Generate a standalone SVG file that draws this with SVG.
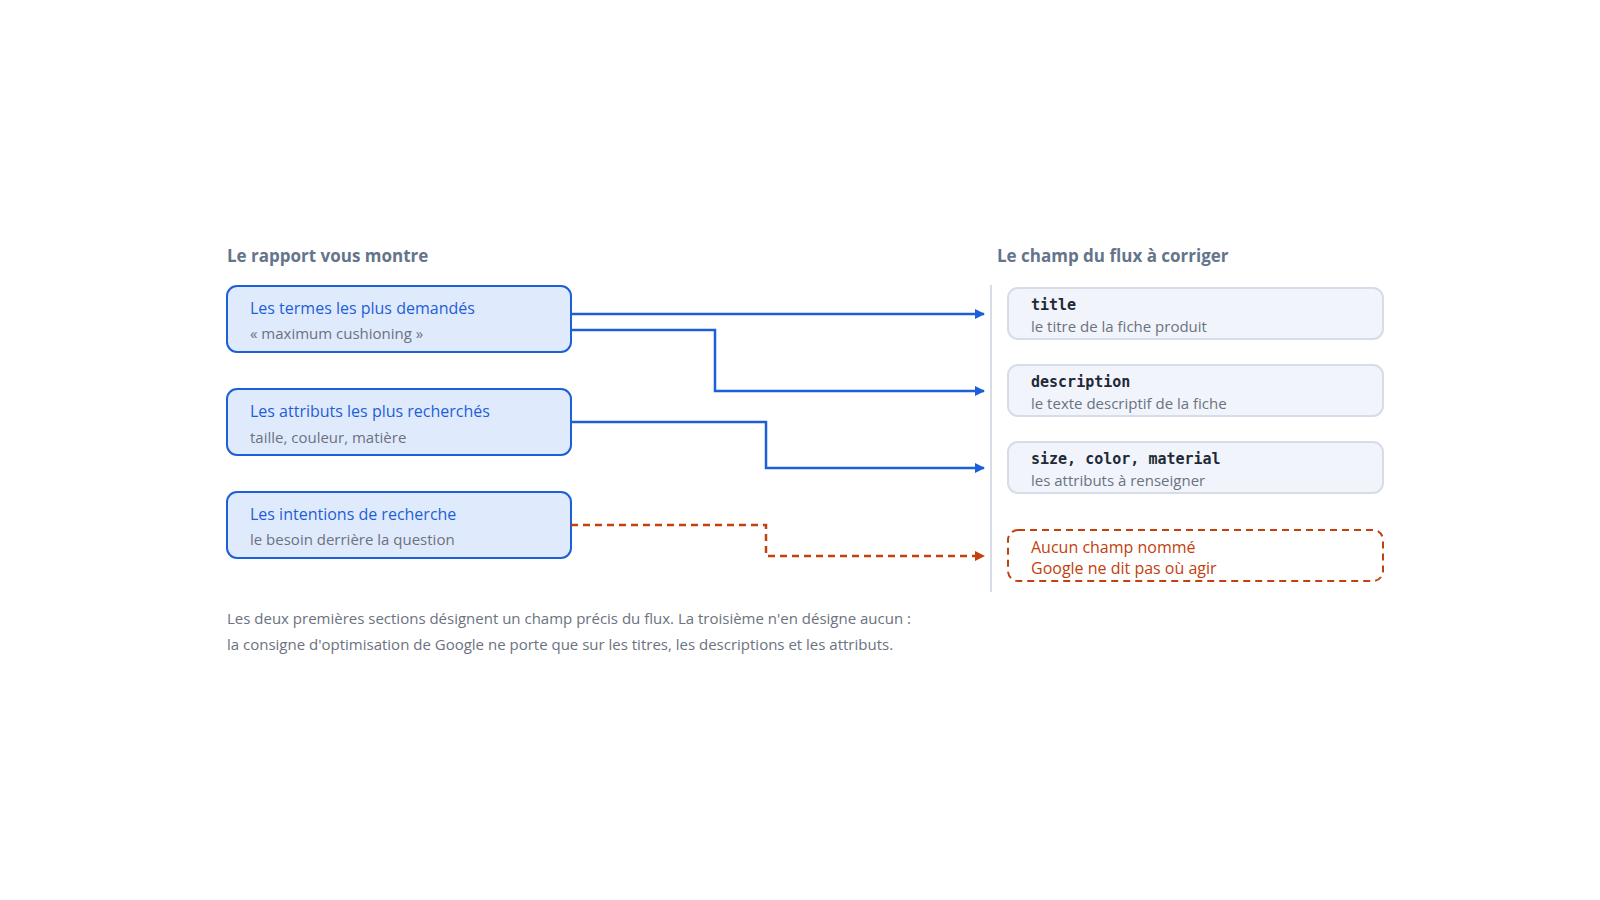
<svg xmlns="http://www.w3.org/2000/svg" width="1600" height="900" viewBox="0 0 1600 900">
<style>
.h{font-family:"Open Sans","Noto Sans",sans-serif;font-weight:700;font-size:17px;fill:#64748b}
.t{font-family:"Open Sans","Noto Sans",sans-serif;font-size:16px;fill:#1d5fd6}
.s{font-family:"Open Sans","Noto Sans",sans-serif;font-size:15px;fill:#6b7280}
.m{font-family:"DejaVu Sans Mono",monospace;font-weight:700;font-size:15px;fill:#1f2937}
.o{font-family:"Open Sans","Noto Sans",sans-serif;font-size:16px;fill:#c2410c}
.src{fill:#e0eafd;stroke:#1d5fd6;stroke-width:2}
.dst{fill:#f1f5fb;stroke:#d6dde8;stroke-width:2}
.c{fill:none;stroke:#1d5fd6;stroke-width:2.5}
.d{fill:none;stroke:#c2410c;stroke-width:2.5;stroke-dasharray:7 5}
</style>
<defs>
<marker id="ab" markerWidth="10" markerHeight="10" refX="9" refY="5" orient="auto" markerUnits="userSpaceOnUse" viewBox="0 0 10 10"><path d="M0,0 L10,5 L0,10 z" fill="#1d5fd6"/></marker>
<marker id="ao" markerWidth="10" markerHeight="10" refX="9" refY="5" orient="auto" markerUnits="userSpaceOnUse" viewBox="0 0 10 10"><path d="M0,0 L10,5 L0,10 z" fill="#c2410c"/></marker>
</defs>
<rect width="1600" height="900" fill="#fff"/>
<text class="h" x="227" y="262">Le rapport vous montre</text>
<text class="h" x="997" y="262">Le champ du flux à corriger</text>
<line x1="991" y1="285" x2="991" y2="592" stroke="#d6dde8" stroke-width="2"/>
<g id="n1"><rect class="src" x="227" y="286" width="344" height="66" rx="10"/><text class="t" x="250" y="314">Les termes les plus demandés</text><text class="s" x="250" y="339">« maximum cushioning »</text></g>
<g id="n2"><rect class="src" x="227" y="389" width="344" height="66" rx="10"/><text class="t" x="250" y="417">Les attributs les plus recherchés</text><text class="s" x="250" y="443">taille, couleur, matière</text></g>
<g id="n3"><rect class="src" x="227" y="492" width="344" height="66" rx="10"/><text class="t" x="250" y="520">Les intentions de recherche</text><text class="s" x="250" y="545">le besoin derrière la question</text></g>
<g id="f1"><rect class="dst" x="1008" y="288" width="375" height="51" rx="10"/><text class="m" x="1031" y="310">title</text><text class="s" x="1031" y="332">le titre de la fiche produit</text></g>
<g id="f2"><rect class="dst" x="1008" y="365" width="375" height="51" rx="10"/><text class="m" x="1031" y="387">description</text><text class="s" x="1031" y="409">le texte descriptif de la fiche</text></g>
<g id="f3"><rect class="dst" x="1008" y="442" width="375" height="51" rx="10"/><text class="m" x="1031" y="464">size, color, material</text><text class="s" x="1031" y="486">les attributs à renseigner</text></g>
<g id="f4"><rect x="1008" y="530" width="375" height="51" rx="10" fill="none" stroke="#c2410c" stroke-width="2" stroke-dasharray="7 5"/><text class="o" x="1031" y="553">Aucun champ nommé</text><text class="o" x="1031" y="574">Google ne dit pas où agir</text></g>
<g id="connectors">
<path class="c" d="M571,314 H984" marker-end="url(#ab)"/>
<path class="c" d="M571,330 H715 V391 H984" marker-end="url(#ab)"/>
<path class="c" d="M571,422 H766 V468 H984" marker-end="url(#ab)"/>
<path class="d" d="M571,525 H766 V556 H984" marker-end="url(#ao)"/>
</g>
<text class="s" x="227" y="624">Les deux premières sections désignent un champ précis du flux. La troisième n'en désigne aucun :</text>
<text class="s" x="227" y="650">la consigne d'optimisation de Google ne porte que sur les titres, les descriptions et les attributs.</text>
</svg>
